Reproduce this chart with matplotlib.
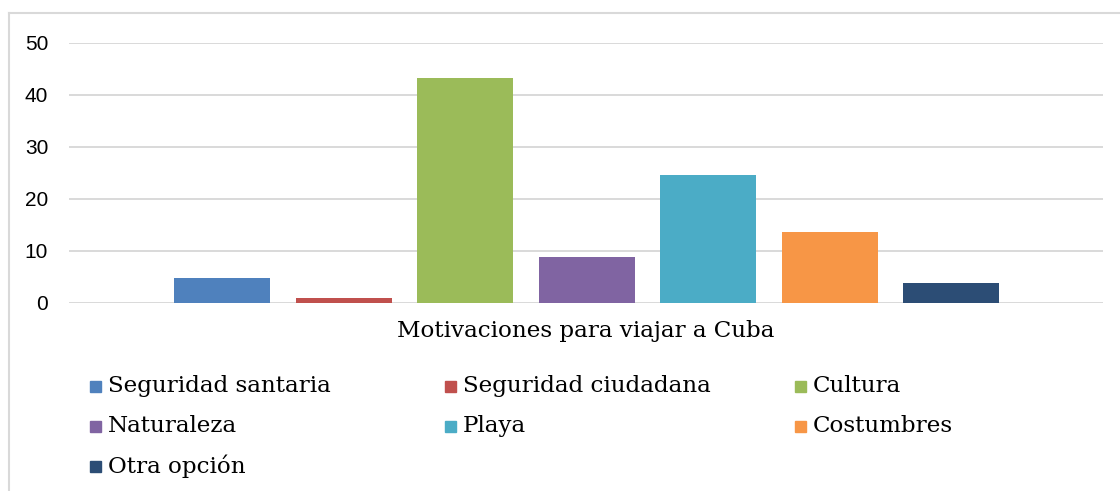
import matplotlib
matplotlib.use("Agg")
import matplotlib.pyplot as plt
from matplotlib.patches import Rectangle
from matplotlib.lines import Line2D

categories = ["Seguridad santaria", "Seguridad ciudadana", "Cultura",
              "Naturaleza", "Playa", "Costumbres", "Otra opción"]
values = [4.8, 0.9, 43.2, 8.8, 24.6, 13.6, 3.8]
colors = ["#4f81bd", "#c0504d", "#9bbb59", "#8064a2", "#4bacc6", "#f79646", "#2c4d75"]
yticks = [0, 10, 20, 30, 40, 50]
xlabel = "Motivaciones para viajar a Cuba"

W, H = 1120, 491
fig = plt.figure(figsize=(W / 100, H / 100), dpi=100)
ax = fig.add_axes([69 / W, 1 - 302.7 / H, (1103 - 69) / W, 260 / H])

x = list(range(len(values)))
ax.bar(x, values, width=0.79, color=colors, zorder=3)
ax.set_xlim(-1.26, 7.25)
ax.set_ylim(0, 50)
ax.set_yticks(yticks)
ax.set_yticklabels([str(t) for t in yticks], family="Liberation Sans", fontsize=15)
ax.set_xticks([])
for s in ax.spines.values():
    s.set_visible(False)
ax.grid(axis="y", color="#d9d9d9", linewidth=1.4, zorder=0)
ax.tick_params(axis="y", length=0, pad=15, labelcolor="#000000")

serif = ["DejaVu Serif"]
fig.text(586 / W, 1 - 331 / H, xlabel, ha="center", va="center",
         fontsize=16.6, family=serif)

# legend (3 columns, row-major)
col_x = [90, 445, 795]
row_y = [386, 426, 466]
for i, (name, c) in enumerate(zip(categories, colors)):
    r, cc = divmod(i, 3)
    x0 = col_x[cc]
    y0 = row_y[r]
    fig.patches.append(Rectangle((x0 / W, 1 - (y0 + 5.5) / H), 11 / W, 11 / H,
                                 transform=fig.transFigure, color=c))
    fig.text((x0 + 18) / W, 1 - y0 / H, name, ha="left", va="center",
             fontsize=16.6, family=serif)

# border of chart area
fig.add_artist(Line2D([8.5 / W, 8.5 / W], [0, 1 - 13 / H], color="#d9d9d9",
                      linewidth=1.5, transform=fig.transFigure))
fig.add_artist(Line2D([8.5 / W, 1], [1 - 13 / H, 1 - 13 / H], color="#d9d9d9",
                      linewidth=1.5, transform=fig.transFigure))

fig.savefig("out.png", dpi=100)
